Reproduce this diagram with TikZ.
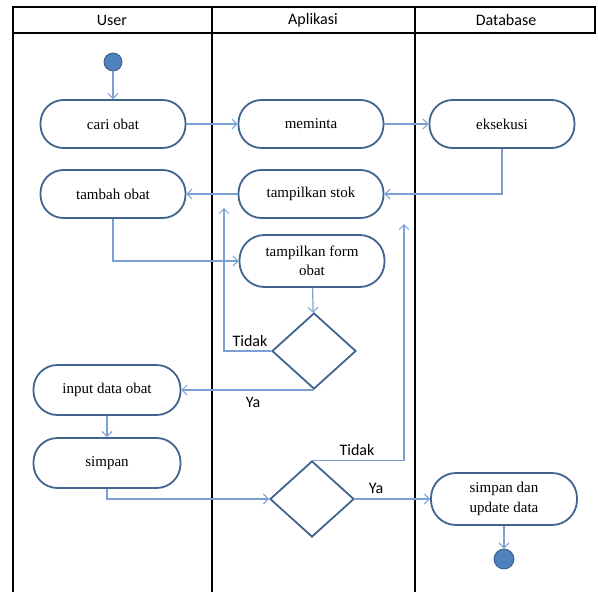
\documentclass[tikz,border=0pt]{standalone}
\usepackage{fontspec}
\setmainfont{Liberation Serif}
\newfontfamily\labelfont{Carlito}
\usetikzlibrary{arrows.meta,shapes.geometric,calc}
\definecolor{nodeline}{HTML}{41648F}
\definecolor{flowline}{HTML}{7BA0D4}
\definecolor{dotfill}{HTML}{4F81BD}
\definecolor{dotline}{HTML}{385D8A}
\tikzset{
  act/.style={draw=nodeline, line width=1.8pt, rounded corners=23pt,
    minimum width=145pt, minimum height=48pt, align=center,
    font=\fontsize{15}{19.5}\selectfont, inner sep=2pt},
  decision/.style={draw=nodeline, line width=1.8pt, diamond,
    minimum width=84pt, minimum height=76pt, inner sep=0pt},
  dot/.style={circle, fill=dotfill, draw=dotline, line width=0.8pt,
    minimum size=18pt, inner sep=0pt},
  flow/.style={draw=flowline, line width=1.2pt,
    -{Straight Barb[length=5pt,width=10pt,line width=1pt]}},
  lbl/.style={font=\labelfont\fontsize{16}{17}\selectfont, inner sep=0pt},
  lane/.style={draw=black, line width=1.2pt},
  head/.style={draw=black, line width=2pt}
}
\begin{document}
\begin{tikzpicture}[x=1pt, y=-1pt]
\useasboundingbox (0,0) rectangle (598,592);
% swimlane separators
\draw[lane] (13,33) -- (13,592);
\draw[lane] (212,33) -- (212,592);
\draw[lane] (415,33) -- (415,592);
% header row
\draw[head] (13,7) rectangle (595,33);
\draw[head] (212,7) -- (212,33);
\draw[head] (415,7) -- (415,33);
\node[lbl] (hUser) at (112,20) {User};
\node[lbl] (hApp) at (313,20) {Aplikasi};
\node[lbl] (hDb) at (506,20) {Database};
% activities
\node[dot] (start) at (113,62) {};
\node[act] (cari) at (113,124) {cari obat};
\node[act] (minta) at (311,124) {meminta};
\node[act] (eks) at (502,124) {eksekusi};
\node[act] (tambah) at (113,194) {tambah obat};
\node[act] (stok) at (311,194) {tampilkan stok};
\node[act, minimum height=52pt, rounded corners=25pt] (form) at (312,261) {tampilkan form\\obat};
\node[decision] (d1) at (314,351) {};
\node[act, minimum width=147pt, minimum height=50pt, rounded corners=24pt] (input) at (107,390) {input data obat};
\node[act, minimum width=147pt, minimum height=50pt, rounded corners=24pt] (simpan) at (107,463) {simpan};
\node[decision] (d2) at (312,499) {};
\node[act, minimum width=146pt, minimum height=52pt, rounded corners=25pt] (upd) at (504,499) {simpan dan\\update data};
\node[dot, minimum size=20pt] (end) at (504,559) {};
\coordinate (back1) at (224,208);
\coordinate (back2) at (404,224);
% connectors
\draw[flow] (start) -- (cari);
\draw[flow] (cari) -- (minta);
\draw[flow] (minta) -- (eks);
\draw[flow] (eks.south) |- (stok.east);
\draw[flow] (stok) -- (tambah);
\draw[flow] (tambah.south) |- (form.west);
\draw[flow] (form) -- (d1);
\draw[flow] (d1.west) -| (back1);
\draw[flow] (d1.south) -- (d1.south -| input.east);
\draw[flow] (input) -- (simpan);
\draw[flow] (simpan.south) |- (d2.west);
\draw[flow] (d2.north) -| (back2);
\draw[flow] (d2) -- (upd);
\draw[flow] (upd) -- (end);
% guard labels
\node[lbl] (t1) at (250,341) {Tidak};
\node[lbl] (y1) at (253,402) {Ya};
\node[lbl] (t2) at (357,450) {Tidak};
\node[lbl] (y2) at (376,488) {Ya};
\end{tikzpicture}
\end{document}
